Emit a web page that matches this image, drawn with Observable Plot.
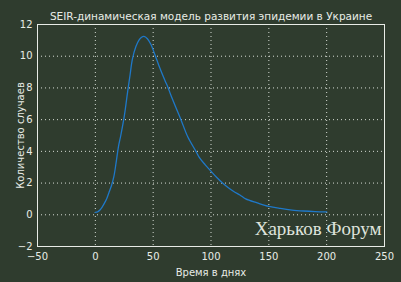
<!DOCTYPE html>
<html><head><meta charset="utf-8">
<script src="https://cdn.jsdelivr.net/npm/d3@7"></script>
<script src="https://cdn.jsdelivr.net/npm/@observablehq/plot@0.6"></script>
<style>
html,body{margin:0;padding:0;background:#2f3c2e;}
svg{display:block;}
</style>
</head><body><div id="chart"></div>
<script>
const title = "SEIR-динамическая модель развития эпидемии в Украине";
const xLabel = "Время в днях";
const yLabel = "Количество случаев";
const watermark = "Харьков Форум";
const xTicks = [-50, 0, 50, 100, 150, 200, 250];
const yTicks = [-2, 0, 2, 4, 6, 8, 10, 12];
const days  = [0, 2, 4, 6, 8, 10, 12, 14, 16, 18, 20, 22, 25, 28, 30, 32, 35, 38, 40, 42, 45, 48, 50, 52, 55, 60, 63, 65, 70, 74, 80, 87, 90, 95, 100, 105, 110, 115, 120, 125, 130, 140, 150, 160, 170, 180, 190, 200];
const cases = [0.15, 0.18, 0.3, 0.5, 0.75, 1.05, 1.45, 1.85, 2.4, 3.3, 4.3, 5.0, 6.2, 7.8, 8.8, 9.8, 10.6, 11.05, 11.2, 11.25, 11.1, 10.75, 10.4, 10.0, 9.4, 8.5, 8.0, 7.6, 6.7, 6.0, 4.9, 4.0, 3.6, 3.15, 2.75, 2.35, 2.0, 1.7, 1.45, 1.25, 1.0, 0.75, 0.53, 0.4, 0.3, 0.24, 0.2, 0.18];

const data = days.map((d, i) => ({day: d, value: cases[i]}));
const fg = "#e8ece6";
const font = "DejaVu Sans, sans-serif";

const chart = Plot.plot({
  width: 401,
  height: 282,
  marginLeft: 37,
  marginRight: 17,
  marginTop: 24,
  marginBottom: 36,
  style: {background: "#2f3c2e", color: fg, fontFamily: font, fontSize: "10px"},
  x: {domain: [-50, 250], ticks: xTicks},
  y: {domain: [-2, 12], ticks: yTicks},
  marks: [
    Plot.ruleX(xTicks, {stroke: fg, strokeDasharray: "1,3", strokeWidth: 1, strokeOpacity: 0.9}),
    Plot.ruleY(yTicks, {stroke: fg, strokeDasharray: "1,3", strokeWidth: 1, strokeOpacity: 0.9}),
    Plot.frame({stroke: fg, strokeWidth: 1}),
    Plot.axisX({ticks: xTicks, tickSize: 0, tickPadding: 6, fontSize: 10, label: xLabel, labelAnchor: "center", labelArrow: "none", labelOffset: 29}),
    Plot.axisY({ticks: yTicks, tickSize: 0, tickPadding: 5, fontSize: 10, label: yLabel, labelAnchor: "center", labelArrow: "none", labelOffset: 21}),
    Plot.line(data, {x: "day", y: "value", stroke: "#1f78c8", strokeWidth: 1.3, curve: "catmull-rom"}),
    Plot.text([title], {frameAnchor: "top", dy: -12, fontSize: 10.5, fill: fg}),
    Plot.text([watermark], {frameAnchor: "bottom-right", dx: -3, dy: -12, fontSize: 19, fontFamily: "Liberation Serif, serif", fill: "#dfe3dc", textAnchor: "end"})
  ]
});
document.getElementById("chart").appendChild(chart);
</script>
</body></html>
